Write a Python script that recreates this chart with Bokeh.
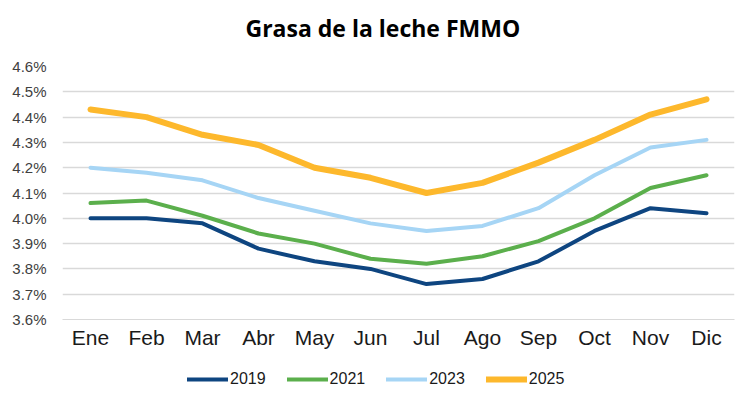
from bokeh.plotting import figure
from bokeh.layouts import column
from bokeh.models import FixedTicker, PrintfTickFormatter, Legend, LegendItem, Range1d, Title
from bokeh.embed import file_html
from bokeh.resources import INLINE

months = ["Ene", "Feb", "Mar", "Abr", "May", "Jun", "Jul", "Ago", "Sep", "Oct", "Nov", "Dic"]
y2019 = [4.00, 4.00, 3.98, 3.88, 3.83, 3.80, 3.74, 3.76, 3.83, 3.95, 4.04, 4.02]
y2021 = [4.06, 4.07, 4.01, 3.94, 3.90, 3.84, 3.82, 3.85, 3.91, 4.00, 4.12, 4.17]
y2023 = [4.20, 4.18, 4.15, 4.08, 4.03, 3.98, 3.95, 3.97, 4.04, 4.17, 4.28, 4.31]
y2025 = [4.43, 4.40, 4.33, 4.29, 4.20, 4.16, 4.10, 4.14, 4.22, 4.31, 4.41, 4.47]
y_ticks = [3.6, 3.7, 3.8, 3.9, 4.0, 4.1, 4.2, 4.3, 4.4, 4.5, 4.6]

series = [("2019", y2019, "#0E4580", 4),
          ("2021", y2021, "#5BAF4C", 4),
          ("2023", y2023, "#A6D5F5", 4),
          ("2025", y2025, "#FDB82C", 6)]

p = figure(x_range=months, y_range=Range1d(3.6, 4.6), title=None,
           frame_width=672, frame_height=253,
           output_backend="svg", toolbar_location=None,
           min_border_left=62, min_border_right=6, min_border_top=66, min_border_bottom=30)

# small spacer between title and plot area, then the title itself
p.add_layout(Title(text=" ", text_font_size="6px"), "above")
p.add_layout(Title(text="Grasa de la leche FMMO", align="left", offset=183,
                   text_font="Open Sans", text_font_style="bold",
                   text_font_size="23px", text_color="#000000"), "above")

p.outline_line_color = None
p.background_fill_color = "white"
p.border_fill_color = "white"

p.yaxis.ticker = FixedTicker(ticks=y_ticks)
p.yaxis.formatter = PrintfTickFormatter(format="%.1f%%")
p.yaxis.axis_line_color = None
p.yaxis.major_tick_line_color = None
p.yaxis.minor_tick_line_color = None
p.yaxis.major_label_text_font = "Liberation Sans"
p.yaxis.major_label_text_font_size = "15px"
p.yaxis.major_label_text_color = "#404040"
p.yaxis.major_label_standoff = 10

p.xaxis.axis_line_color = "#D9D9D9"
p.xaxis.major_tick_line_color = None
p.xaxis.minor_tick_line_color = None
p.xaxis.major_label_text_font = "Liberation Sans"
p.xaxis.major_label_text_font_size = "21px"
p.xaxis.major_label_text_color = "#1a1a1a"
p.xaxis.major_label_standoff = 0

p.xgrid.grid_line_color = None
p.ygrid.grid_line_color = "#D9D9D9"
p.ygrid.grid_line_width = 1.5

for name, vals, color, w in series:
    p.line(months, vals, line_color=color, line_width=w, line_join="round", line_cap="round")

# legend strip below the chart (its series lie outside its own visible range)
lf = figure(width=740, height=50, x_range=months, y_range=Range1d(10, 11),
            x_axis_type=None, y_axis_type=None,
            output_backend="svg", toolbar_location=None,
            min_border_left=0, min_border_right=0, min_border_top=0, min_border_bottom=0)
lf.outline_line_color = None
lf.xgrid.grid_line_color = None
lf.ygrid.grid_line_color = None
items = []
for name, vals, color, w in series:
    r = lf.line(months, vals, line_color=color, line_width=w, line_cap="round")
    items.append(LegendItem(label=name, renderers=[r]))

legend = Legend(items=items, orientation="horizontal", location=(125, 13),
                glyph_width=41, glyph_height=14, label_text_font="Liberation Sans",
                label_text_font_size="16px", label_text_color="#1a1a1a",
                spacing=21, label_standoff=2, border_line_color=None,
                background_fill_alpha=0, margin=0, padding=2)
lf.add_layout(legend)

layout = column(p, lf, spacing=0)
open("out.html", "w").write(file_html(layout, INLINE))
